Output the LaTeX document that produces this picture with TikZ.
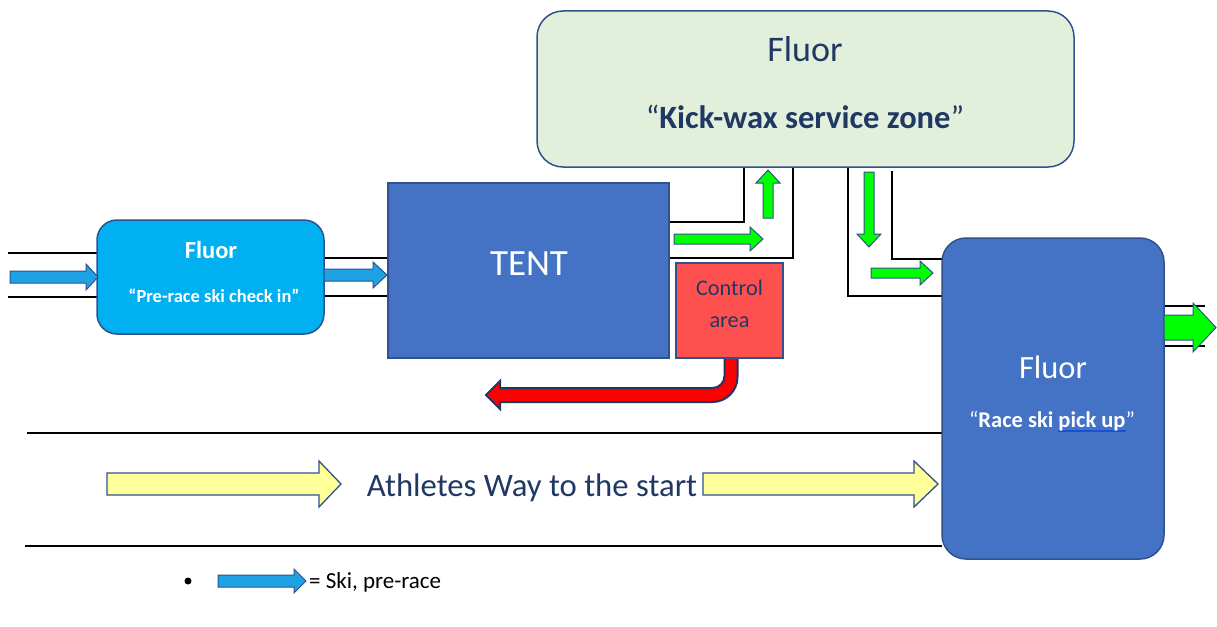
\documentclass[tikz,border=0pt]{standalone}
\usepackage{fontspec}
\setmainfont{Carlito}
\definecolor{kwfill}{HTML}{E2EFDA}
\definecolor{edge}{HTML}{2F528F}
\definecolor{cyanfill}{HTML}{00B0F0}
\definecolor{bluefill}{HTML}{4472C4}
\definecolor{ctrlfill}{HTML}{FF5050}
\definecolor{navy}{HTML}{1F3864}
\definecolor{gfill}{HTML}{00FF00}
\definecolor{skiblue}{HTML}{1FA2E3}
\definecolor{yfill}{HTML}{FFFF99}
\definecolor{ulblue}{HTML}{1A4FD8}
\newcommand{\blockarrow}[8]{%
  \begin{scope}[shift={(#2,#3)}, rotate=#4]
    \draw[#1] (0,-#6) -- (#5-#8,-#6) -- (#5-#8,-#7) -- (#5,0) -- (#5-#8,#7) -- (#5-#8,#6) -- (0,#6) -- cycle;
  \end{scope}}
\newcommand{\myul}[1]{\setbox0\hbox{#1}\rlap{\color{ulblue}\rule[-4.5pt]{\wd0}{1.3pt}}\box0}
\begin{document}
\begin{tikzpicture}[x=1pt,y=-1pt,
  box/.style={draw=edge, line width=1.5pt, inner sep=0pt, outer sep=0pt},
  wall/.style={draw=black, line width=1.8pt},
  garrow/.style={fill=gfill, draw=edge, line width=1pt, line join=miter},
  barrow/.style={fill=skiblue, draw=edge, line width=1pt},
  yarrow/.style={fill=yfill, draw=edge, line width=1.3pt},
  lbl/.style={inner sep=0pt, anchor=base}]
\useasboundingbox (0,0) rectangle (1217,626);
\fill[white] (0,0) rectangle (1217,626);

% walls
\draw[wall] (8,253) -- (97,253);
\draw[wall] (8,297) -- (97,297);
\draw[wall] (324,258) -- (388,258);
\draw[wall] (324,296) -- (388,296);
\draw[wall] (666,222) -- (744,222) -- (744,167);
\draw[wall] (666,258) -- (793,258) -- (793,167);
\draw[wall] (848,166) -- (848,296) -- (942,296);
\draw[wall] (892,171) -- (892,259) -- (942,259);
\draw[wall] (1164,306) -- (1205,306);
\draw[wall] (1164,346) -- (1205,346);
\draw[wall] (27,433) -- (942,433);
\draw[wall] (25,546) -- (942,546);

% boxes
\node[box, fill=kwfill, rounded corners=26pt, minimum width=537pt, minimum height=156pt] (kw) at (805.5,89) {};
\node[box, fill=cyanfill, rounded corners=20pt, minimum width=227pt, minimum height=114pt] (pre) at (210.5,277) {};
\node[box, fill=bluefill, minimum width=281pt, minimum height=175pt] (tent) at (528.5,270.5) {};
\node[box, fill=ctrlfill, minimum width=107pt, minimum height=95pt] (ctrl) at (729.5,310.5) {};
\node[box, fill=bluefill, rounded corners=24pt, minimum width=222pt, minimum height=321pt] (pick) at (1053,398.5) {};

% texts
\node[lbl, text=navy, font=\fontsize{36}{40}\selectfont] (kwt1) at (805,61) {Fluor};
\node[lbl, text=navy, font=\fontsize{32.5}{36}\selectfont] (kwt2) at (805,128) {“\textbf{Kick-wax service zone}”};
\node[lbl, text=white, font=\bfseries\fontsize{24.5}{28}\selectfont] (pret1) at (211,258) {Fluor};
\node[lbl, text=white, font=\bfseries\fontsize{18.5}{22}\selectfont] (pret2) at (214,302) {“Pre-race ski check in”};
\node[lbl, text=white, font=\fontsize{37}{40}\selectfont] (tentt) at (529,275) {TENT};
\node[lbl, text=navy, font=\fontsize{22.3}{25}\selectfont] (ctrlt1) at (729.5,295) {Control};
\node[lbl, text=navy, font=\fontsize{22.3}{25}\selectfont] (ctrlt2) at (729.5,327) {area};
\node[lbl, text=white, font=\fontsize{32.5}{36}\selectfont] (pickt1) at (1053,378) {Fluor};
\node[lbl, text=white, font=\fontsize{22.5}{26}\selectfont] (pickt2) at (1052,427) {“\textbf{Race ski \myul{pick up}}”};
\node[lbl, text=navy, font=\fontsize{32.7}{36}\selectfont] (way) at (532,496) {Athletes Way to the start};

% arrows
\blockarrow{barrow}{10}{277}{0}{88}{6}{13}{12}
\blockarrow{barrow}{324}{275}{0}{63}{6}{13}{14}
\blockarrow{garrow}{674}{239}{0}{89}{5}{12}{13}
\blockarrow{garrow}{768}{218}{90}{48}{5}{12}{13}
\blockarrow{garrow}{869}{172}{-90}{75}{5}{12}{13}
\blockarrow{garrow}{871}{273}{0}{62}{5}{12}{13}
\blockarrow{garrow}{1164}{327.5}{0}{52}{12.5}{24.5}{23}
\blockarrow{yarrow}{107}{484}{0}{234}{11}{23}{22}
\blockarrow{yarrow}{703}{484}{0}{235}{11}{23}{24}

% red bent arrow
\draw[fill=red, draw=navy, line width=2pt, line join=miter]
  (724.5,359) -- (724.5,376) .. controls (724.5,382.6) and (719.1,388) .. (712.5,388)
  -- (500,388) -- (500,381) -- (486,395) -- (500,409) -- (500,402) -- (712.5,402)
  .. controls (726.3,402) and (737.5,390.8) .. (737.5,377) -- (737.5,359);

% legend
\fill[black] (188,581) circle (3.5pt);
\blockarrow{barrow}{218}{581}{0}{88}{6}{12}{12}
\node[lbl, anchor=base west, font=\fontsize{23}{26}\selectfont] (leg) at (309,588) {= Ski, pre-race};
\end{tikzpicture}
\end{document}
